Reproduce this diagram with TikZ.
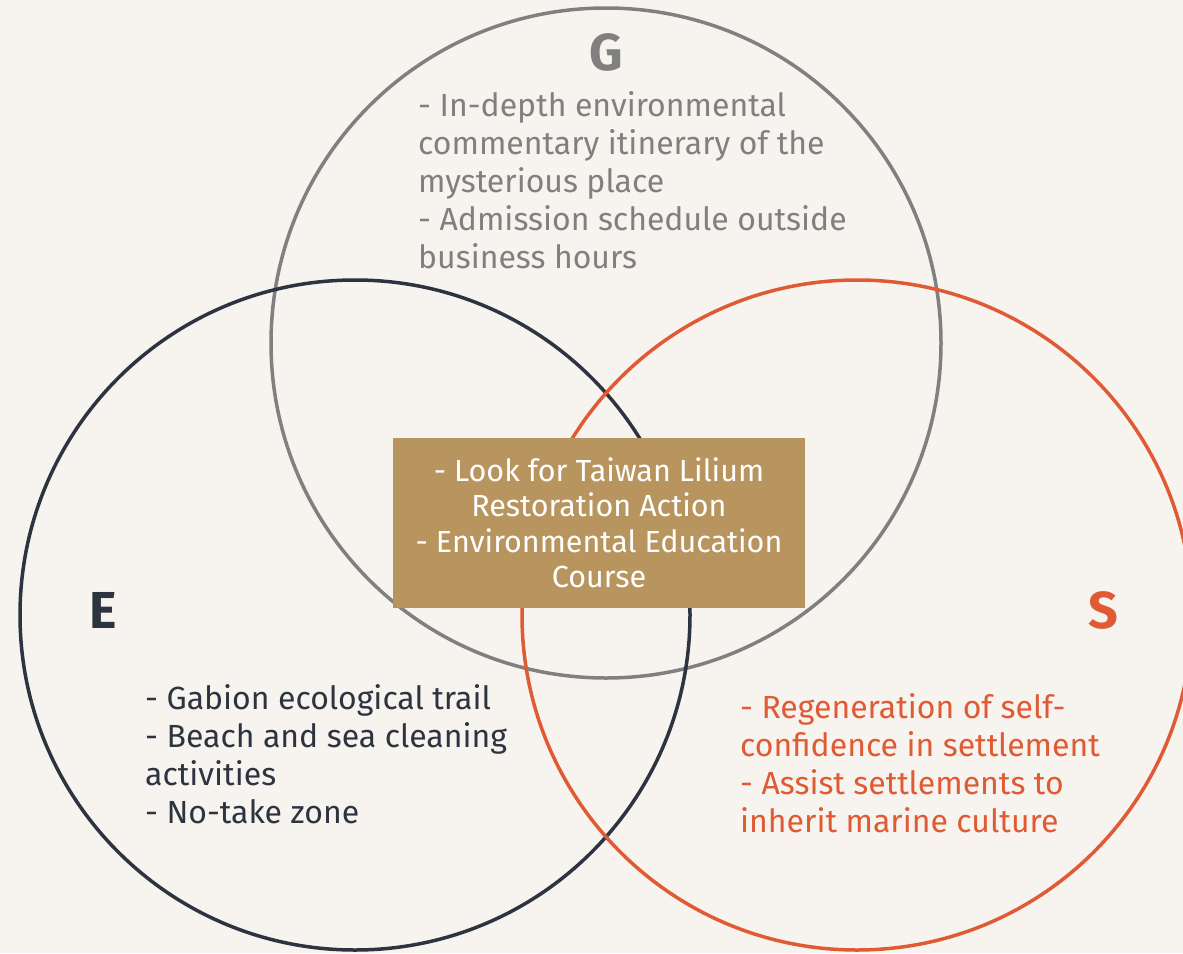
\documentclass[tikz,border=0pt]{standalone}
\usepackage{fontspec}
\setmainfont{Fira Sans}
\usetikzlibrary{positioning}
\definecolor{bgCream}{HTML}{F7F4EF}
\definecolor{gGray}{HTML}{808080}
\definecolor{eNavy}{HTML}{2D3440}
\definecolor{sOrange}{HTML}{E05A33}
\definecolor{coreGold}{HTML}{B8955F}
\tikzset{%
	% Specifications for style of nodes:
	ring/.style = {circle, draw, line width=3.5pt, minimum size=670pt, inner sep=0pt},
	letter/.style = {font=\fontsize{52}{52}\selectfont\bfseries},
	% notes are anchored at the baseline of their last line
	notes/.style = {align=left, inner sep=0pt, anchor=base west,
		font=\fontsize{32}{38}\selectfont},
	core/.style = {rectangle, fill=coreGold, text=white, align=center,
		minimum width=412pt, minimum height=170pt, inner sep=0pt,
		font=\fontsize{30.5}{35.5}\selectfont}
}
\begin{document}
\begin{tikzpicture}[x=1pt, y=-1pt]
		\fill[bgCream] (0,0) rectangle (1183,953);
		\useasboundingbox (0,0) rectangle (1183,953);
		%% the three circles
		\node[ring, draw=gGray] (gRing) at (606,343) {};
		\node[ring, draw=eNavy] (eRing) at (355,615) {};
		\node[ring, draw=sOrange] (sRing) at (857,615) {};
		%% letters
		\node[letter, text=gGray] (gLetter) at (606,52) {G};
		\node[letter, text=eNavy] (eLetter) at (103,610) {E};
		\node[letter, text=sOrange] (sLetter) at (1103,610) {S};
		%% notes
		\node[notes, text=gGray] (gNotes) at (418,268) {- In-depth environmental\\commentary itinerary of the\\mysterious place\\- Admission schedule outside\\business hours};
		\node[notes, text=eNavy] (eNotes) at (145,823) {- Gabion ecological trail\\- Beach and sea cleaning\\activities\\- No-take zone};
		\node[notes, text=sOrange] (sNotes) at (740,832) {- Regeneration of self-\\confidence in settlement\\- Assist settlements to\\inherit marine culture};
		%% overlap box
		\node[core] (coreBox) at (599,523) {- Look for Taiwan Lilium\\Restoration Action\\- Environmental Education\\Course};
	\end{tikzpicture}
\end{document}
